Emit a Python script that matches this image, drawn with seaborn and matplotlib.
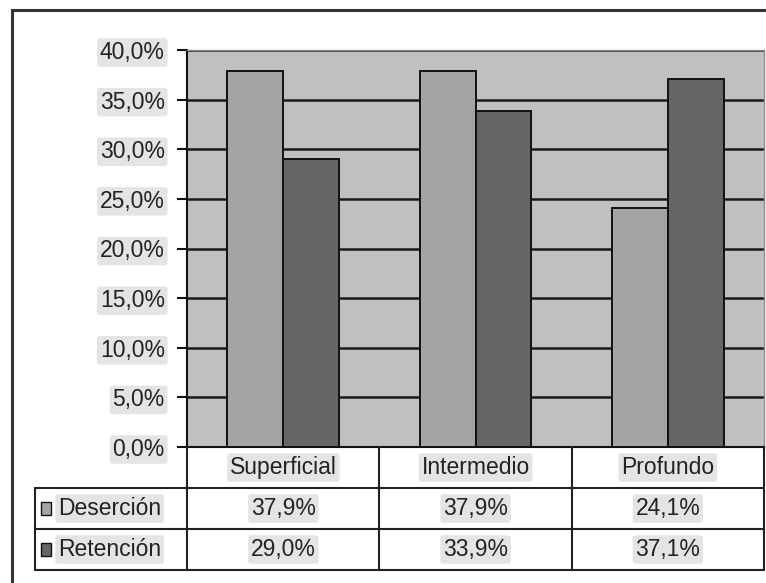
import matplotlib.pyplot as plt
import pandas as pd
import seaborn as sns
from matplotlib.patches import Rectangle

# Data
categories = ['Superficial', 'Intermedio', 'Profundo']
series = ['Deserción', 'Retención']
desercion = [37.9, 37.9, 24.1]
retencion = [29.0, 33.9, 37.1]
yticks = [0, 5, 10, 15, 20, 25, 30, 35, 40]
colors = ['#a4a4a4', '#666666']

df = pd.DataFrame({
    'cat': categories * 2,
    'serie': [series[0]] * 3 + [series[1]] * 3,
    'valor': desercion + retencion,
})

def pct(v):
    return f'{v:.1f}%'.replace('.', ',')

sns.set_style('white')
plt.rcParams['font.family'] = ['Liberation Sans', 'DejaVu Sans']

W, H = 766, 583
FS = 16.5
fig = plt.figure(figsize=(W / 100, H / 100), dpi=100)

def box(x0, y0, x1, y1):
    # pixel box -> figure fraction [left, bottom, width, height]
    return [x0 / W, 1 - y1 / H, (x1 - x0) / W, (y1 - y0) / H]

# outer frame
fig.patches.append(Rectangle((12 / W, -0.1), 1.2, 1 - 10 / H + 0.1, transform=fig.transFigure,
                             fill=False, edgecolor='#333333', linewidth=2.2))

ax = fig.add_axes(box(187, 50, 764, 447))
ax.set_facecolor('#c0c0c0')
sns.barplot(data=df, x='cat', y='valor', hue='serie', palette=colors, width=0.58,
            edgecolor='#111111', linewidth=1.4, ax=ax, legend=False, zorder=3)
ax.set_xlim(-0.5, 2.5)
ax.set_ylim(0, 40)
ax.set_yticks(yticks)
ax.set_yticklabels([pct(v) for v in yticks])
for t in ax.get_yticklabels():
    t.set_bbox(dict(boxstyle='round,pad=0.12', facecolor='#e4e4e4', edgecolor='none'))
ax.yaxis.grid(True, color='#1a1a1a', linewidth=1.8, zorder=1)
ax.set_axisbelow(True)
ax.set_xticks([])
ax.set_xlabel('')
ax.set_ylabel('')
ax.tick_params(axis='y', direction='out', length=7, width=1.5, color='#111111',
               pad=9, labelsize=FS, labelcolor='#222222', left=True)
for side in ['top', 'right']:
    ax.spines[side].set_color('#8a8a8a')
    ax.spines[side].set_linewidth(1.0)
ax.spines['left'].set_color('#111111')
ax.spines['left'].set_linewidth(1.5)
ax.spines['bottom'].set_color('#111111')
ax.spines['bottom'].set_linewidth(1.5)

# data table below the plot, sharing the category scale
left_px = 35
x_left = -0.5 - (187 - left_px) / 192
tab = fig.add_axes(box(left_px, 447, 764, 570))
tab.set_xlim(x_left, 2.5)
tab.set_ylim(3, 0)
tab.axis('off')
lc = '#222222'
bounds = [-0.5, 0.5, 1.5, 2.5]
for b in bounds:
    tab.plot([b, b], [0, 3], color=lc, lw=1.5, clip_on=False)
tab.plot([x_left, x_left], [1, 3], color=lc, lw=1.5, clip_on=False)
for r in [1, 2, 3]:
    tab.plot([x_left, 2.5], [r, r], color=lc, lw=1.5, clip_on=False)

hl = dict(boxstyle='round,pad=0.12', facecolor='#e4e4e4', edgecolor='none')
for i, c in enumerate(categories):
    tab.text(i, 0.5, c, ha='center', va='center', fontsize=FS, color='#222222', bbox=hl)
rows = [desercion, retencion]
for r, (name, vals, col) in enumerate(zip(series, rows, colors)):
    y = r + 1.5
    tab.add_patch(Rectangle((x_left + 0.03, y - 0.15), 0.055, 0.3, facecolor=col,
                            edgecolor='#111111', linewidth=1.0, clip_on=False))
    tab.text(x_left + 0.12, y, name, ha='left', va='center', fontsize=FS,
             color='#222222', bbox=hl)
    for i, v in enumerate(vals):
        tab.text(i, y, pct(v), ha='center', va='center', fontsize=FS, color='#222222', bbox=hl)

fig.savefig('out.png', dpi=100)
